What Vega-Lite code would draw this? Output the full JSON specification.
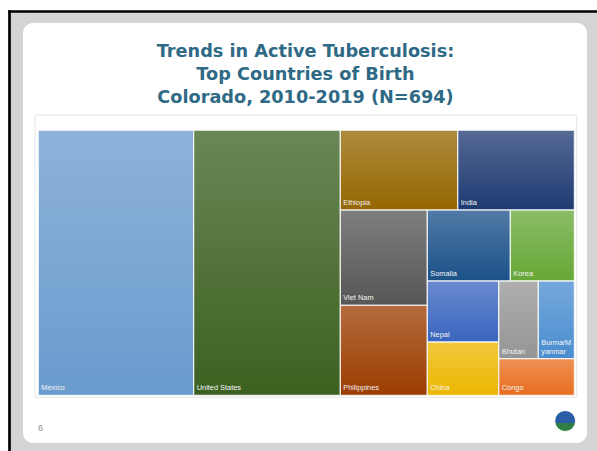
{
  "$schema": "https://vega.github.io/schema/vega-lite/v6.json",
  "width": 588,
  "height": 440,
  "autosize": "none",
  "padding": {"left": 9, "top": 11, "right": 0, "bottom": 0},
  "background": "white",
  "config": {
    "view": {"stroke": null, "fill": "#D4D4D4"},
    "axis": {"domainColor": "black", "domainWidth": 2.7, "domainCap": "square", "ticks": false, "labels": false, "grid": false, "title": null}
  },
  "data": {
    "values": [
      {"country": "Mexico", "cases": 201, "x0": 0, "x1": 28.99, "y0": 0, "y1": 100},
      {"country": "United States", "cases": 190, "x0": 28.99, "x1": 56.34, "y0": 0, "y1": 100},
      {"country": "Ethiopia", "cases": 46, "x0": 56.34, "x1": 78.25, "y0": 0, "y1": 30.08},
      {"country": "India", "cases": 45, "x0": 78.25, "x1": 100, "y0": 0, "y1": 30.08},
      {"country": "Viet Nam", "cases": 40, "x0": 56.34, "x1": 72.57, "y0": 30.08, "y1": 66.04},
      {"country": "Philippines", "cases": 38, "x0": 56.34, "x1": 72.57, "y0": 66.04, "y1": 100},
      {"country": "Somalia", "cases": 29, "x0": 72.57, "x1": 88.06, "y0": 30.08, "y1": 56.87},
      {"country": "Korea", "cases": 22, "x0": 88.06, "x1": 100, "y0": 30.08, "y1": 56.87},
      {"country": "Nepal", "cases": 21, "x0": 72.57, "x1": 85.9, "y0": 56.87, "y1": 79.89},
      {"country": "China", "cases": 19, "x0": 72.57, "x1": 85.9, "y0": 79.89, "y1": 100},
      {"country": "Bhutan", "cases": 15, "x0": 85.9, "x1": 93.28, "y0": 56.87, "y1": 86.19},
      {"country": "Burma/Myanmar", "cases": 14, "x0": 93.28, "x1": 100, "y0": 56.87, "y1": 86.19},
      {"country": "Congo", "cases": 14, "x0": 85.9, "x1": 100, "y0": 86.19, "y1": 100}
    ]
  },
  "layer": [
    {
      "data": {"values": [{}]},
      "mark": {"type": "rect", "fill": "white", "cornerRadius": 10},
      "encoding": {
        "x": {"datum": -2.85, "type": "quantitative", "scale": {"domain": [-5.466, 104.235], "nice": false, "zero": false}, "axis": {"orient": "top"}},
        "x2": {"datum": 102.37},
        "y": {"datum": -40.49, "type": "quantitative", "scale": {"domain": [-45.02, 121.02], "nice": false, "zero": false, "reverse": true}, "axis": {"orient": "left"}},
        "y2": {"datum": 118.0}
      }
    },
    {
      "data": {"values": [{}]},
      "mark": {"type": "rect", "fill": "white", "stroke": "#E6E6E6", "strokeWidth": 1},
      "encoding": {
        "x": {"datum": -0.62, "type": "quantitative"},
        "x2": {"datum": 100.45},
        "y": {"datum": -5.77, "type": "quantitative"},
        "y2": {"datum": 100.75}
      }
    },
    {
      "mark": {"type": "rect", "stroke": "white", "strokeWidth": 1, "strokeOpacity": 0.6},
      "encoding": {
        "x": {"field": "x0", "type": "quantitative"},
        "x2": {"field": "x1"},
        "y": {"field": "y0", "type": "quantitative"},
        "y2": {"field": "y1"},
        "color": {
          "field": "country",
          "type": "nominal",
          "legend": null,
          "scale": {
            "domain": ["Mexico", "United States", "Ethiopia", "India", "Viet Nam", "Philippines", "Somalia", "Korea", "Nepal", "China", "Bhutan", "Burma/Myanmar", "Congo"],
            "range": ["#6A9BCE", "#3B6120", "#946600", "#1F3A72", "#565656", "#9B3D00", "#1B5189", "#66A836", "#3A65BF", "#EDB700", "#959595", "#4A8DD0", "#E86D1F"]
          }
        },
        "opacity": {"value": 1},
        "tooltip": [{"field": "country", "type": "nominal"}, {"field": "cases", "type": "quantitative"}]
      }
    },
    {
      "mark": {
        "type": "rect",
        "fill": {"gradient": "linear", "x1": 0, "y1": 0, "x2": 0, "y2": 1, "stops": [{"offset": 0, "color": "rgba(255,255,255,0.24)"}, {"offset": 1, "color": "rgba(255,255,255,0)"}]},
        "stroke": "white", "strokeWidth": 1, "strokeOpacity": 0.5
      },
      "encoding": {
        "x": {"field": "x0", "type": "quantitative"},
        "x2": {"field": "x1"},
        "y": {"field": "y0", "type": "quantitative"},
        "y2": {"field": "y1"}
      }
    },
    {
      "transform": [{"filter": "datum.country !== 'Burma/Myanmar'"}],
      "mark": {"type": "text", "align": "left", "baseline": "bottom", "dx": 3, "dy": -3, "font": "Liberation Sans", "fontSize": 7.4, "fill": "#F4F4F4"},
      "encoding": {
        "x": {"field": "x0", "type": "quantitative"},
        "y": {"field": "y1", "type": "quantitative"},
        "text": {"field": "country"}
      }
    },
    {
      "transform": [
        {"filter": "datum.country === 'Burma/Myanmar'"},
        {"calculate": "['Burma/M', 'yanmar']", "as": "label"}
      ],
      "mark": {"type": "text", "align": "left", "baseline": "bottom", "dx": 3, "dy": -12, "font": "Liberation Sans", "fontSize": 7.4, "lineHeight": 9, "fill": "#F4F4F4"},
      "encoding": {
        "x": {"field": "x0", "type": "quantitative"},
        "y": {"field": "y1", "type": "quantitative"},
        "text": {"field": "label"}
      }
    },
    {
      "data": {"values": [{}]},
      "mark": {"type": "text", "align": "center", "baseline": "alphabetic", "font": "DejaVu Sans", "fontWeight": "bold", "fontSize": 17.7, "lineHeight": 23, "fill": "#2E6A85"},
      "encoding": {
        "x": {"datum": 49.85, "type": "quantitative"},
        "y": {"datum": -27.77, "type": "quantitative"},
        "text": {"value": ["Trends in Active Tuberculosis:", "Top Countries of Birth", "Colorado, 2010-2019 (N=694)"]}
      }
    },
    {
      "data": {"values": [{}]},
      "mark": {"type": "text", "align": "left", "baseline": "alphabetic", "font": "Liberation Sans", "fontSize": 9, "fill": "#8C8C8C"},
      "encoding": {
        "x": {"datum": -0.06, "type": "quantitative"},
        "y": {"datum": 113.47, "type": "quantitative"},
        "text": {"value": "6"}
      }
    },
    {
      "data": {"values": [{}]},
      "mark": {
        "type": "point", "shape": "circle", "filled": true, "size": 440, "opacity": 1,
        "fill": {"gradient": "linear", "x1": 0, "y1": 0, "x2": 0, "y2": 1, "stops": [{"offset": 0, "color": "#2B5CA8"}, {"offset": 0.6, "color": "#2B5CA8"}, {"offset": 0.6, "color": "#2F7E45"}, {"offset": 1, "color": "#2F7E45"}]},
        "stroke": "white", "strokeWidth": 1
      },
      "encoding": {
        "x": {"datum": 98.3, "type": "quantitative"},
        "y": {"datum": 109.7, "type": "quantitative"}
      }
    }
  ]
}
